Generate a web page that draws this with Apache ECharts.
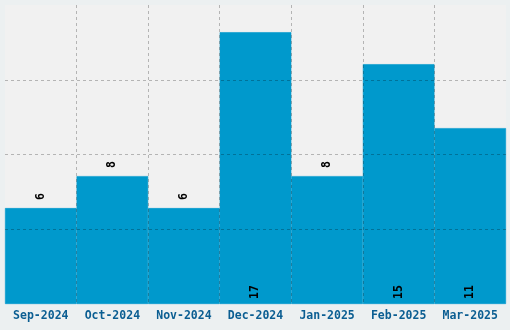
<!DOCTYPE html>
<html><head><meta charset="utf-8">
<script src="https://cdn.jsdelivr.net/npm/echarts@6/dist/echarts.min.js"></script>
<style>html,body{margin:0;padding:0;background:#ecf0f1}#c{width:510px;height:330px}</style>
</head><body><div id="c"></div>
<script>
const categories = ['Sep-2024','Oct-2024','Nov-2024','Dec-2024','Jan-2025','Feb-2025','Mar-2025'];
const values = [6, 8, 6, 17, 8, 15, 11];
const labelInsideThreshold = 10;
const yMax = Math.max(...values) * 1.1;

const chart = echarts.init(document.getElementById('c'), null, {renderer:'canvas'});
const gridLine = {show:true, interval:0, showMinLine:false, showMaxLine:false, lineStyle:{color:'rgba(0,0,0,0.25)', type:[3,3], width:1}};
chart.setOption({
  backgroundColor:'#ecf0f1',
  animation:false,
  grid:{left:5, right:4, top:5, bottom:26, show:true, backgroundColor:'#f1f1f1', borderWidth:0},
  xAxis:{type:'category', data:categories, z:5,
    axisLine:{show:false}, axisTick:{show:false},
    splitLine:gridLine,
    axisLabel:{interval:0, color:'#0b5e92', fontFamily:'DejaVu Sans Mono', fontWeight:'bold', fontSize:11.5, margin:6}},
  yAxis:{type:'value', min:0, max:yMax, interval:yMax/4, z:5,
    axisLine:{show:false}, axisTick:{show:false}, axisLabel:{show:false},
    splitLine:Object.assign({}, gridLine, {interval:undefined})},
  series:[{type:'bar', barCategoryGap:0, barGap:0, z:2,
    itemStyle:{color:'#0099cc', borderColor:'#0099cc', borderWidth:0.6},
    data: values.map(v => ({value:v, label:{position: v > labelInsideThreshold ? 'insideBottom' : 'top', distance: v > labelInsideThreshold ? 5 : 8}})),
    label:{show:true, rotate:90, align:'left', verticalAlign:'middle', color:'#000', fontFamily:'DejaVu Sans Mono', fontWeight:'bold', fontSize:11.5}}]
});
</script></body></html>
